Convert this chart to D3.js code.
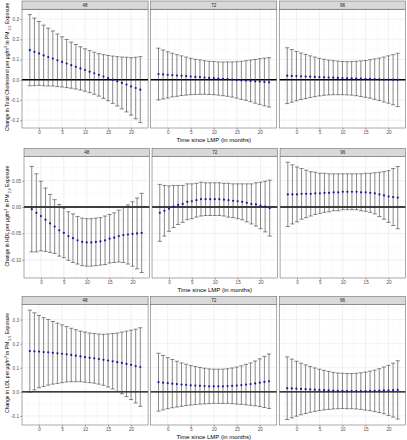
<!DOCTYPE html>
<html><head><meta charset="utf-8">
<script src="https://cdn.jsdelivr.net/npm/d3@7"></script>
<style>body{margin:0;background:#fff}svg{display:block}</style>
</head><body>
<svg id="chart" width="407" height="440"></svg>
<script>
const months = [-2,-1,0,1,2,3,4,5,6,7,8,9,10,11,12,13,14,15,16,17,18,19,20,21,22];
const facets = ["48","72","96"];
const xTicks = [0,5,10,15,20];

// Total cholesterol
const tcEst48 = [0.146,0.138,0.130,0.120,0.112,0.105,0.096,0.088,0.080,0.072,0.064,0.056,0.048,0.040,0.032,0.024,0.016,0.008,0.000,-0.008,-0.016,-0.024,-0.033,-0.041,-0.049];
const tcMoe48 = [0.176,0.167,0.158,0.150,0.143,0.136,0.130,0.124,0.119,0.114,0.110,0.107,0.105,0.104,0.104,0.105,0.108,0.112,0.117,0.122,0.128,0.135,0.142,0.152,0.163];
const tcEst72 = [0.028,0.026,0.024,0.023,0.021,0.020,0.018,0.016,0.014,0.013,0.011,0.009,0.008,0.006,0.004,0.003,0.001,-0.001,-0.003,-0.004,-0.006,-0.008,-0.009,-0.011,-0.013];
const tcMoe72 = [0.128,0.121,0.114,0.108,0.103,0.098,0.094,0.090,0.087,0.085,0.083,0.082,0.082,0.082,0.083,0.085,0.087,0.090,0.094,0.098,0.103,0.108,0.113,0.118,0.122];
const tcEst96 = [0.020,0.019,0.018,0.017,0.016,0.015,0.014,0.013,0.012,0.011,0.010,0.009,0.008,0.007,0.007,0.006,0.005,0.004,0.004,0.003,0.002,0.001,0.001,0.000,-0.001];
const tcMoe96 = [0.138,0.130,0.122,0.115,0.109,0.103,0.098,0.093,0.089,0.086,0.084,0.083,0.082,0.082,0.083,0.085,0.088,0.091,0.095,0.100,0.105,0.111,0.117,0.124,0.132];
const tcTicks = [-0.2,-0.1,0.0,0.1,0.2,0.3];

// HDL
const hdlEst48 = [-0.004,-0.011,-0.017,-0.024,-0.031,-0.037,-0.044,-0.049,-0.055,-0.059,-0.063,-0.066,-0.067,-0.067,-0.066,-0.065,-0.063,-0.060,-0.058,-0.055,-0.053,-0.052,-0.051,-0.050,-0.049];
const hdlMoe48 = [0.081,0.074,0.066,0.060,0.055,0.051,0.049,0.047,0.046,0.046,0.045,0.045,0.045,0.045,0.045,0.045,0.046,0.046,0.047,0.049,0.052,0.056,0.061,0.067,0.075];
const hdlEst72 = [-0.011,-0.007,-0.003,0.001,0.004,0.006,0.010,0.011,0.013,0.015,0.015,0.015,0.015,0.015,0.014,0.013,0.012,0.011,0.010,0.008,0.006,0.005,0.003,0.001,-0.002];
const hdlMoe72 = [0.054,0.048,0.043,0.040,0.037,0.035,0.034,0.033,0.032,0.032,0.031,0.031,0.031,0.031,0.031,0.032,0.032,0.033,0.034,0.036,0.038,0.041,0.044,0.048,0.053];
const hdlEst96 = [0.024,0.024,0.024,0.025,0.025,0.025,0.026,0.026,0.027,0.027,0.028,0.028,0.029,0.029,0.029,0.029,0.028,0.028,0.027,0.026,0.024,0.022,0.020,0.019,0.018];
const hdlMoe96 = [0.061,0.056,0.052,0.048,0.045,0.042,0.040,0.038,0.037,0.036,0.035,0.035,0.034,0.034,0.034,0.034,0.035,0.036,0.037,0.039,0.042,0.045,0.049,0.054,0.059];
const hdlTicks = [-0.10,-0.05,0.00,0.05];

// LDL
const ldlEst48 = [0.169,0.168,0.167,0.165,0.164,0.162,0.160,0.158,0.156,0.153,0.150,0.147,0.144,0.141,0.139,0.136,0.133,0.130,0.127,0.123,0.120,0.116,0.112,0.107,0.103];
const ldlMoe48 = [0.170,0.160,0.150,0.143,0.136,0.130,0.125,0.120,0.115,0.111,0.108,0.105,0.104,0.103,0.103,0.104,0.106,0.110,0.115,0.121,0.128,0.136,0.144,0.153,0.163];
const ldlEst72 = [0.040,0.038,0.036,0.034,0.032,0.030,0.029,0.027,0.026,0.025,0.024,0.023,0.023,0.023,0.023,0.024,0.025,0.026,0.028,0.030,0.032,0.035,0.038,0.041,0.044];
const ldlMoe72 = [0.120,0.113,0.106,0.100,0.095,0.090,0.086,0.082,0.079,0.076,0.074,0.072,0.071,0.071,0.071,0.072,0.074,0.077,0.080,0.084,0.088,0.093,0.099,0.106,0.113];
const ldlEst96 = [0.015,0.014,0.013,0.012,0.011,0.010,0.009,0.008,0.007,0.006,0.005,0.004,0.004,0.003,0.003,0.003,0.003,0.003,0.004,0.004,0.005,0.006,0.006,0.007,0.008];
const ldlMoe96 = [0.130,0.122,0.114,0.107,0.101,0.095,0.090,0.086,0.082,0.079,0.076,0.074,0.073,0.073,0.073,0.074,0.076,0.079,0.082,0.086,0.091,0.097,0.104,0.112,0.121];
const ldlTicks = [-0.1,0.0,0.1,0.2,0.3];

const hy = f => v => f(v).replace("\u2212","-");
const rows = [
  {label:"Total Cholesterol", est:[tcEst48,tcEst72,tcEst96], moe:[tcMoe48,tcMoe72,tcMoe96], ticks:tcTicks, fmt:hy(d3.format(".1f")),
   top:1, left:22, bottom:128, titleC:67},
  {label:"HDL", est:[hdlEst48,hdlEst72,hdlEst96], moe:[hdlMoe48,hdlMoe72,hdlMoe96], ticks:hdlTicks, fmt:hy(d3.format(".2f")),
   top:148.5, left:24, bottom:278, titleC:216},
  {label:"LDL", est:[ldlEst48,ldlEst72,ldlEst96], moe:[ldlMoe48,ldlMoe72,ldlMoe96], ticks:ldlTicks, fmt:hy(d3.format(".1f")),
   top:296.5, left:22, bottom:425, titleC:363}
];

const svg = d3.select("#chart");
const font = "'Liberation Sans', Arial, sans-serif";
const right = 405.5, gap = 2.6, stripH = 8.2, capW = 0.9;
let titleFs = null;

rows.forEach(row => {
  const g = svg.append("g");
  const w = (right - row.left - 2*gap)/3;
  const pTop = row.top + stripH, pBot = row.bottom;
  let lo = Infinity, hi = -Infinity;
  row.est.forEach((e,i)=>e.forEach((v,j)=>{lo=Math.min(lo,v-row.moe[i][j]);hi=Math.max(hi,v+row.moe[i][j]);}));
  lo=Math.min(lo,0);hi=Math.max(hi,0);
  const pad=(hi-lo)*0.05;
  const y = d3.scaleLinear().domain([lo-pad,hi+pad]).range([pBot,pTop]);
  const xmin = d3.min(months)-capW/2, xmax = d3.max(months)+capW/2, xp=(xmax-xmin)*0.05;
  const step = row.ticks[1]-row.ticks[0];
  const minorY = [];
  for (let k=-1;k<row.ticks.length;k++) minorY.push(row.ticks[0]+step*(k+0.5));
  const minorX = [-2.5,2.5,7.5,12.5,17.5,22.5];

  facets.forEach((f,i) => {
    const x0 = row.left + i*(w+gap);
    const x = d3.scaleLinear().domain([xmin-xp,xmax+xp]).range([x0,x0+w]);
    const pg = g.append("g");
    pg.append("rect").attr("x",x0).attr("y",pTop).attr("width",w).attr("height",pBot-pTop).attr("fill","#fff");
    pg.selectAll(null).data(minorY.filter(v=>y(v)>pTop&&y(v)<pBot)).join("line")
      .attr("x1",x0).attr("x2",x0+w).attr("y1",d=>y(d)).attr("y2",d=>y(d)).attr("stroke","#f3f3f3").attr("stroke-width",0.4);
    pg.selectAll(null).data(minorX.filter(v=>x(v)>x0&&x(v)<x0+w)).join("line")
      .attr("y1",pTop).attr("y2",pBot).attr("x1",d=>x(d)).attr("x2",d=>x(d)).attr("stroke","#f3f3f3").attr("stroke-width",0.4);
    pg.selectAll(null).data(row.ticks).join("line")
      .attr("x1",x0).attr("x2",x0+w).attr("y1",d=>y(d)).attr("y2",d=>y(d)).attr("stroke","#ebebeb").attr("stroke-width",0.7);
    pg.selectAll(null).data(xTicks).join("line")
      .attr("y1",pTop).attr("y2",pBot).attr("x1",d=>x(d)).attr("x2",d=>x(d)).attr("stroke","#ebebeb").attr("stroke-width",0.7);
    pg.append("line").attr("x1",x0).attr("x2",x0+w).attr("y1",y(0)).attr("y2",y(0)).attr("stroke","#000").attr("stroke-width",1.4);
    const est = row.est[i], moe = row.moe[i];
    const d = months.map((m,j)=>({m, e:est[j], l:est[j]-moe[j], u:est[j]+moe[j]}));
    const eb = pg.append("g").attr("stroke","#3a3a3a").attr("stroke-width",0.6).attr("fill","none");
    eb.selectAll(null).data(d).join("path")
      .attr("d",p=>`M${x(p.m-capW/2)},${y(p.u)}H${x(p.m+capW/2)}M${x(p.m)},${y(p.u)}V${y(p.l)}M${x(p.m-capW/2)},${y(p.l)}H${x(p.m+capW/2)}`);
    pg.selectAll(null).data(d).join("circle")
      .attr("cx",p=>x(p.m)).attr("cy",p=>y(p.e)).attr("r",1.1).attr("fill","#1a1a9c");
    pg.append("rect").attr("x",x0).attr("y",pTop).attr("width",w).attr("height",pBot-pTop)
      .attr("fill","none").attr("stroke","#555").attr("stroke-width",0.5);
    pg.append("rect").attr("x",x0).attr("y",row.top).attr("width",w).attr("height",stripH)
      .attr("fill","#d9d9d9").attr("stroke","#555").attr("stroke-width",0.5);
    pg.append("text").attr("x",x0+w/2).attr("y",row.top+stripH/2).attr("dy","0.35em")
      .attr("text-anchor","middle").attr("font-family",font).attr("font-size",4.6).attr("fill","#1a1a1a").text(f);
    const xa = pg.append("g").attr("transform",`translate(0,${pBot})`)
      .call(d3.axisBottom(x).tickValues(xTicks).tickSize(1.8).tickPadding(1.2));
    xa.select(".domain").remove();
    xa.selectAll("line").attr("stroke","#555").attr("stroke-width",0.5);
    xa.selectAll("text").attr("font-family",font).attr("font-size",4.6).attr("fill","#4d4d4d");
  });
  const ya = g.append("g").attr("transform",`translate(${row.left},0)`)
    .call(d3.axisLeft(y).tickValues(row.ticks).tickFormat(row.fmt).tickSize(1.8).tickPadding(1.2));
  ya.select(".domain").remove();
  ya.selectAll("line").attr("stroke","#555").attr("stroke-width",0.5);
  ya.selectAll("text").attr("font-family",font).attr("font-size",4.6).attr("fill","#4d4d4d");
  g.append("text").attr("x",(row.left+right)/2).attr("y",pBot+13.5).attr("text-anchor","middle")
    .attr("font-family",font).attr("font-size",6).attr("fill","#000").text("Time since LMP (in months)");
  const yt = g.append("text").attr("transform",`translate(7,${row.titleC}) rotate(-90)`)
    .attr("text-anchor","middle").attr("dy","0.35em").attr("font-family",font).attr("fill","#000");
  const build = s => {
    yt.selectAll("*").remove();
    yt.attr("font-size",s);
    yt.append("tspan").text(`Change in ${row.label} per µg/m`);
    yt.append("tspan").attr("baseline-shift","super").attr("font-size",s*0.72).text("3");
    yt.append("tspan").text(" in PM");
    yt.append("tspan").attr("baseline-shift","sub").attr("font-size",s*0.72).text(" 2.5");
    yt.append("tspan").text(" Exposure");
  };
  if (titleFs === null) {
    build(5);
    const len = yt.node().getComputedTextLength();
    titleFs = len > 0 ? 5*129/len : 5;
  }
  build(titleFs);
});
</script>
</body></html>
